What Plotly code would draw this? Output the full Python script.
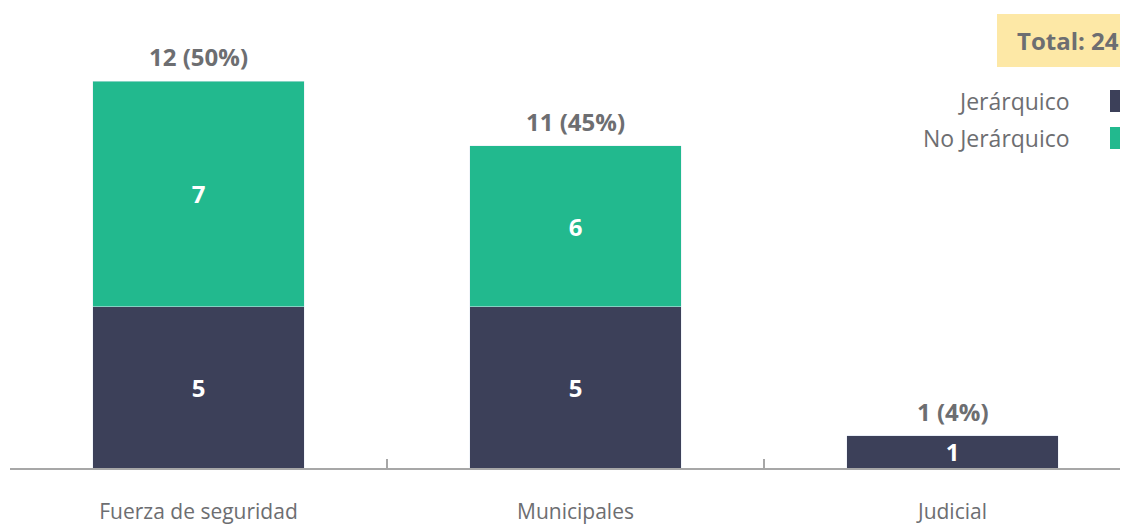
import plotly.graph_objects as go

categories = ["Fuerza de seguridad", "Municipales", "Judicial"]
jerarquico = [5, 5, 1]
no_jerarquico = [7, 5, 0]          # bar heights as drawn in the picture
jerarquico_labels = ["5", "5", "1"]
no_jerarquico_labels = ["7", "6", ""]
total_labels = ["12 (50%)", "11 (45%)", "1 (4%)"]
total_text = "Total: 24"
series_names = ["Jerárquico", "No Jerárquico"]

DARK = "#3c4059"
GREEN = "#22b98e"
GRAY = "#6d6e71"
FONT = "Open Sans"

OFF = 8                      # page body margin
W, H = 1128 - OFF, 527 - OFF
ML = 10 - OFF
AXIS_Y = 468                 # page px
MB = 527 - AXIS_Y
PW = W - ML
PH = H - MB
CAT_W = 377.0
UNIT = 32.25

def px_x(p):
    return (p - OFF - ML) / PW

def px_y(p):
    return (AXIS_Y - p) / PH

fig = go.Figure()
fig.add_trace(go.Bar(
    x=categories, y=jerarquico, name=series_names[0], marker_color=DARK,
    text=jerarquico_labels, textposition="inside", insidetextanchor="middle",
    textangle=0,
    textfont=dict(color="white", size=24, family=FONT, weight="bold"),
    constraintext="none", showlegend=False,
))
fig.add_trace(go.Bar(
    x=categories, y=no_jerarquico, name=series_names[1], marker_color=GREEN,
    text=no_jerarquico_labels, textposition="inside", insidetextanchor="middle",
    textangle=0,
    textfont=dict(color="white", size=24, family=FONT, weight="bold"),
    constraintext="none", showlegend=False,
))

annotations = []
for c, a, b, t in zip(categories, jerarquico, no_jerarquico, total_labels):
    annotations.append(dict(
        x=c, y=a + b, xref="x", yref="y", text=t, showarrow=False,
        yanchor="bottom", yshift=6,
        font=dict(size=24, color=GRAY, family=FONT, weight="bold"),
    ))

# Total box
annotations.append(dict(
    x=px_x(1121), y=px_y(40), xref="paper", yref="paper", text=total_text,
    showarrow=False, xanchor="right", yanchor="middle",
    font=dict(size=24, color=GRAY, family=FONT, weight="bold"),
))

shapes = [dict(type="rect", xref="paper", yref="paper",
               x0=px_x(997), x1=px_x(1140), y0=px_y(67), y1=px_y(14),
               fillcolor="#fde8a6", line_width=0, layer="below")]

# Legend
legend_y = [101, 138]
legend_colors = [DARK, GREEN]
for name, yy, col in zip(series_names, legend_y, legend_colors):
    annotations.append(dict(
        x=px_x(1072), y=px_y(yy), xref="paper", yref="paper", text=name,
        showarrow=False, xanchor="right", yanchor="middle",
        font=dict(size=23, color=GRAY, family=FONT),
    ))
    shapes.append(dict(type="rect", xref="paper", yref="paper",
                       x0=px_x(1110), x1=px_x(1135),
                       y0=px_y(yy + 11), y1=px_y(yy - 11),
                       fillcolor=col, line_width=0))

fig.update_layout(
    width=W, height=H,
    margin=dict(l=ML, r=0, t=0, b=MB),
    barmode="stack", bargap=0.44,
    plot_bgcolor="white", paper_bgcolor="white",
    annotations=annotations, shapes=shapes,
    xaxis=dict(
        type="category", range=[-0.5, -0.5 + PW / CAT_W],
        showline=True, linecolor="#a7a7a7", linewidth=2,
        ticks="inside", tickson="boundaries", ticklen=9, tickcolor="#a7a7a7", tickwidth=1.5,
        showgrid=False, zeroline=False,
        tickfont=dict(size=21, color=GRAY, family=FONT),
        ticklabelstandoff=24,
    ),
    yaxis=dict(visible=False, range=[0, PH / UNIT], fixedrange=True),
    font=dict(family=FONT),
)

fig.write_html("out.html")
